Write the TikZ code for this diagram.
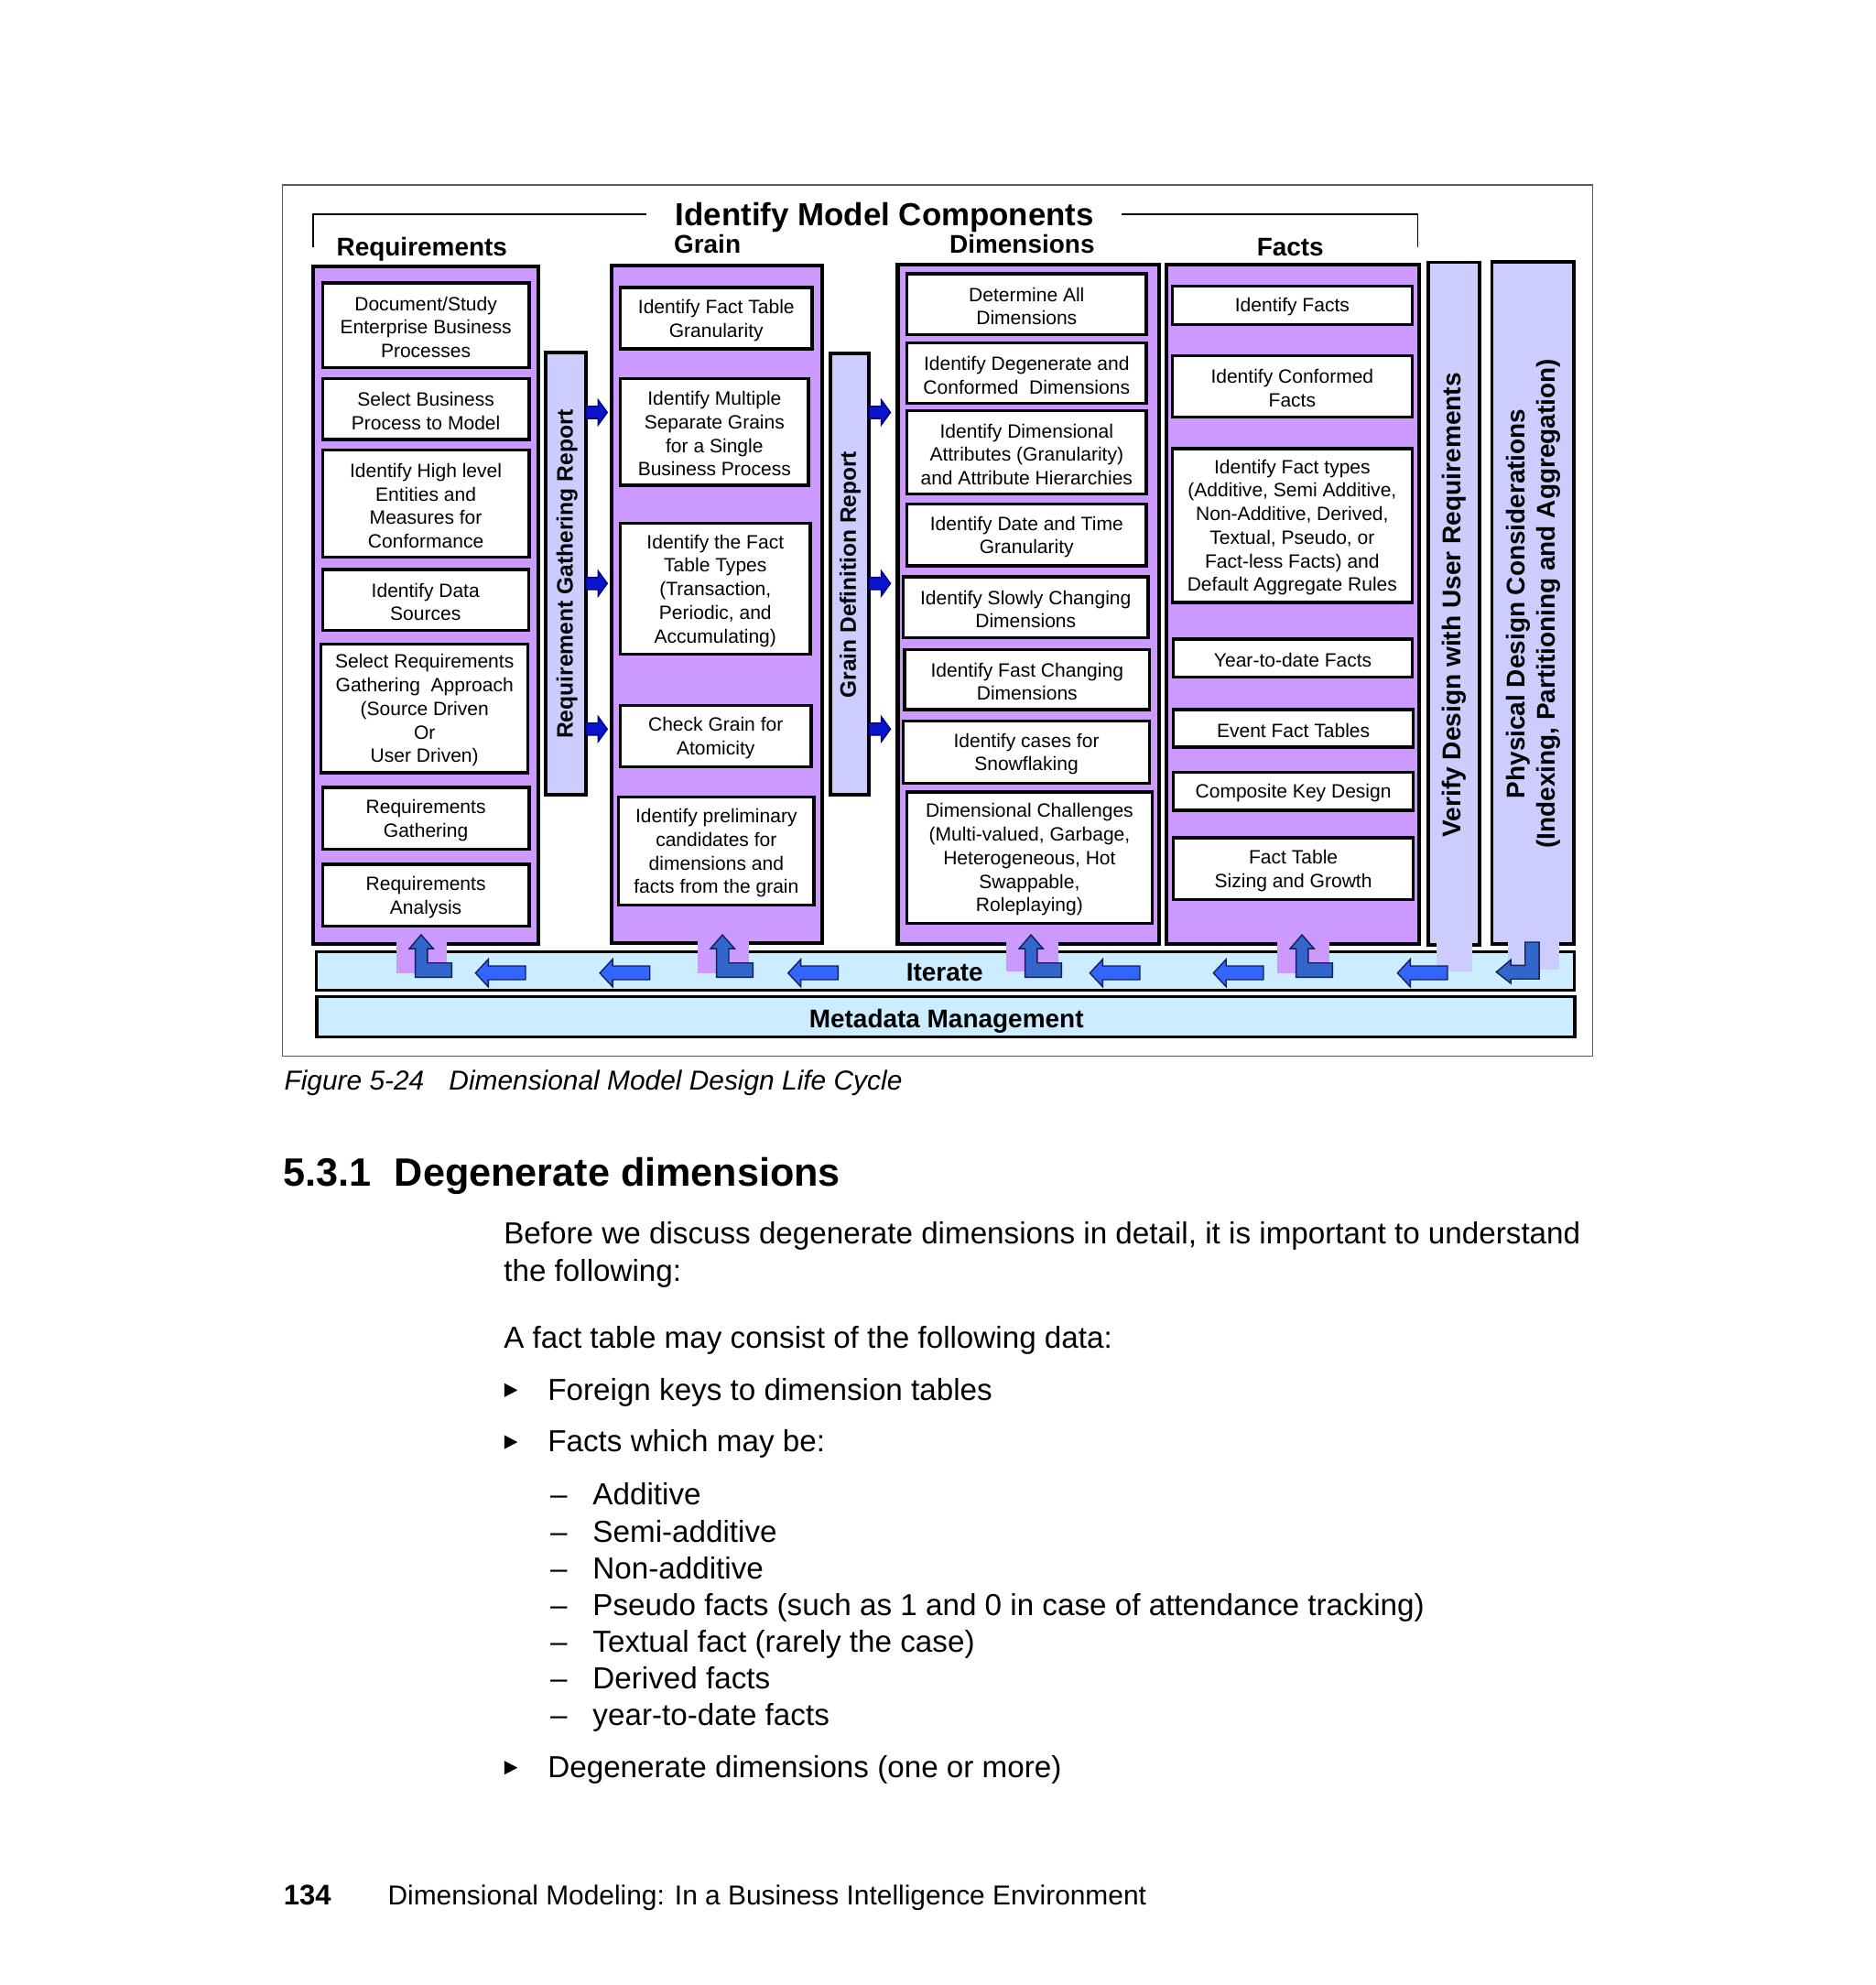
\documentclass[tikz,border=0pt]{standalone}
\usepackage{fontspec}
\setmainfont{Liberation Sans}
\definecolor{panelpurple}{HTML}{CC99FF}
\definecolor{barlav}{HTML}{CCCCFF}
\definecolor{iterblue}{HTML}{CCECFF}
\definecolor{rarrfill}{HTML}{0A14CC}
\definecolor{rarrline}{HTML}{00007A}
\definecolor{lfill}{HTML}{3366CC}
\definecolor{lbright}{HTML}{3366FF}
\definecolor{navyline}{HTML}{10205A}
\tikzset{
  boxst/.style={draw, fill=white, line width=1.2pt, inner sep=0pt},
  boxtext/.style={inner sep=0pt, align=center, font=\fontsize{7.6}{9.3}\selectfont},
  panelst/.style={draw, fill=panelpurple, line width=1.5pt, inner sep=0pt},
  barst/.style={draw, fill=barlav, line width=1.4pt, inner sep=0pt},
  iterst/.style={draw, fill=iterblue, line width=1.3pt, inner sep=0pt},
  headst/.style={anchor=base, font=\bfseries\fontsize{10.1}{12}\selectfont},
  rarrst/.style={fill=rarrfill, draw=rarrline, line width=0.5pt},
  larrst/.style={fill=lbright, draw=navyline, line width=0.5pt},
  lshapest/.style={fill=lfill, draw=navyline, line width=0.5pt},
  bodyst/.style={anchor=base west, inner sep=0pt, font=\fontsize{12}{14.5}\selectfont},
}
\newcommand\mkbox[6]{\node[boxst, minimum width={(#4-#2)*0.5pt}, minimum height={(#5-#3)*0.5pt}] (#1) at ({(#2+#4)/2},{(#3+#5)/2}) {};
  \node[boxtext] (#1t) at ([yshift=-0.8pt]#1.center) {#6};}
\newcommand\mkrect[6]{\node[#6, minimum width={(#4-#2)*0.5pt}, minimum height={(#5-#3)*0.5pt}] (#1) at ({(#2+#4)/2},{(#3+#5)/2}) {};}
\newcommand\rarr[2]{\filldraw[rarrst] (#1,#2-4.8) -- ++(9.6,0) -- ++(0,-5.1) -- ++(7.2,9.9) -- ++(-7.2,9.9) -- ++(0,-5.1) -- ++(-9.6,0) -- cycle;}
\newcommand\larr[1]{\filldraw[larrst] (#1,768) -- (#1+10.1,757.1) -- (#1+10.1,762.4) -- (#1+39.5,762.4) -- (#1+39.5,773.2) -- (#1+10.1,773.2) -- (#1+10.1,778.8) -- cycle;}
\newcommand\lshape[1]{\filldraw[lshapest] (#1,737.8) -- (#1+9.6,748.7) -- (#1+5,748.7) -- (#1+5,760) -- (#1+24.1,760) -- (#1+24.1,771.3) -- (#1-4.6,771.3) -- (#1-4.6,748.7) -- (#1-9.3,748.7) -- cycle;}
\newcommand\bulletmark[1]{\fill (398,#1-13.3) -- (408.5,#1-7.8) -- (398,#1-2.3) -- cycle;}
\begin{document}
\begin{tikzpicture}[x=0.5pt, y=-0.5pt]
\useasboundingbox (0,0) rectangle (1480,1566.7);
\fill[white] (0,0) rectangle (1480,1566.7);
% outer frame
\draw[black!65, line width=0.6pt] (223,146) rectangle (1257,833.5);
% bracket
\draw[line width=0.7pt] (247.4,195.4) -- (247.4,168.8) -- (510.5,168.8);
\draw[line width=0.7pt] (885.5,168.8) -- (1119,168.8) -- (1119,195.4);
\node[anchor=base, font=\bfseries\fontsize{12.6}{14}\selectfont] (title) at (698.3,178) {Identify Model Components};
\node[headst] (hreq) at (333,202.3) {Requirements};
\node[headst] (hgrain) at (558.3,199.5) {Grain};
\node[headst] (hdim) at (806.7,199.5) {Dimensions};
\node[headst] (hfact) at (1018.4,202) {Facts};
% panels and bars
\mkrect{reqP}{247}{210}{425}{745}{panelst}
\mkrect{grainP}{482.5}{209.6}{648.8}{744.5}{panelst}
\mkrect{dimP}{708.5}{209}{915}{745}{panelst}
\mkrect{factP}{920.7}{209}{1120}{745}{panelst}
\mkrect{verifyB}{1127}{207}{1167.5}{746}{barst}
\mkrect{physB}{1177.5}{206.5}{1242}{745}{barst}
\mkrect{reqRep}{431}{278}{462.5}{627.5}{barst}
\mkrect{grainRep}{655.5}{278.7}{685.6}{627.5}{barst}
\mkrect{iterB}{249.7}{751.3}{1242.5}{781.5}{iterst}
\mkrect{metaB}{250}{786.6}{1243}{818.3}{iterst}
% tabs over borders
\fill[panelpurple] (312.7,737) rectangle (352.9,768);
\fill[panelpurple] (550.5,737) rectangle (591,768);
\fill[panelpurple] (794,737) rectangle (835.6,766.5);
\fill[panelpurple] (1008.4,737) rectangle (1049.2,768);
\fill[barlav] (1133.5,738) rectangle (1162,766.5);
\fill[barlav] (1190.4,738) rectangle (1230.9,765.5);
% requirement boxes
\mkbox{r1}{254.5}{223.2}{417.7}{290}{Document/Study\\Enterprise Business\\Processes}
\mkbox{r2}{254.5}{298.6}{417.7}{346.9}{Select Business\\Process to Model}
\mkbox{r3}{254.5}{355.4}{417.7}{439.8}{Identify High level\\Entities and\\Measures for\\Conformance}
\mkbox{r4}{254.5}{449.6}{417.2}{497.3}{Identify Data\\Sources}
\mkbox{r5}{253.4}{508.3}{416.8}{610}{Select Requirements\\Gathering~~Approach\\(Source Driven\\Or\\User Driven)}
\mkbox{r6}{254.5}{621.5}{417.7}{670.2}{Requirements\\Gathering}
\mkbox{r7}{254.5}{682.2}{417.7}{731.1}{Requirements\\Analysis}
% grain boxes
\mkbox{g1}{489.6}{226.9}{641}{275.4}{Identify Fact Table\\Granularity}
\mkbox{g2}{489.6}{298.6}{638.2}{383}{Identify Multiple\\Separate Grains\\for a Single\\Business Process}
\mkbox{g3}{489.6}{413}{639.6}{516.2}{Identify the Fact\\Table Types\\(Transaction,\\Periodic, and\\Accumulating)}
\mkbox{g4}{489.6}{557}{640.2}{605}{Check Grain for\\Atomicity}
\mkbox{g5}{488.2}{629.2}{642.5}{714.3}{Identify preliminary\\candidates for\\dimensions and\\facts from the grain}
% dimension boxes
\mkbox{d1}{715.8}{216}{904.8}{264.3}{Determine All\\Dimensions}
\mkbox{d2}{715.8}{270.7}{904.8}{318.5}{Identify Degenerate and\\Conformed~~Dimensions}
\mkbox{d3}{715.8}{324}{904.8}{390}{Identify Dimensional\\Attributes (Granularity)\\and Attribute Hierarchies}
\mkbox{d4}{715.8}{398}{904.8}{446.5}{Identify Date and Time\\Granularity}
\mkbox{d5}{712.8}{455.3}{906.3}{503.3}{Identify Slowly Changing\\Dimensions}
\mkbox{d6}{713.9}{512.6}{907.4}{560.1}{Identify Fast Changing\\Dimensions}
\mkbox{d7}{712.8}{569}{907.4}{618}{Identify cases for\\Snowflaking}
\mkbox{d8}{715.8}{625.1}{909.3}{728.7}{Dimensional Challenges\\(Multi-valued, Garbage,\\Heterogeneous, Hot\\Swappable,\\Roleplaying)}
% fact boxes
\mkbox{f1}{925.2}{225.6}{1114.6}{256}{Identify Facts}
\mkbox{f2}{925.2}{280.6}{1114.6}{329}{Identify Conformed\\Facts}
\mkbox{f3}{925.2}{354.1}{1114.6}{475.4}{Identify Fact types\\(Additive, Semi Additive,\\Non-Additive, Derived,\\Textual, Pseudo, or\\Fact-less Facts) and\\Default Aggregate Rules}
\mkbox{f4}{926.3}{504.3}{1114.6}{534.5}{Year-to-date Facts}
\mkbox{f5}{926.3}{560.1}{1115.3}{589.7}{Event Fact Tables}
\mkbox{f6}{926.3}{609.5}{1115.3}{639.6}{Composite Key Design}
\mkbox{f7}{926.3}{661.3}{1115.3}{710.2}{Fact Table\\Sizing and Growth}
% vertical labels
\node[rotate=90, font=\bfseries\fontsize{8.9}{10}\selectfont] (lreq) at (447.5,453) {Requirement Gathering Report};
\node[rotate=90, font=\bfseries\fontsize{8.85}{10}\selectfont] (lgrain) at (671,453.5) {Grain Definition Report};
\node[rotate=90, font=\bfseries\fontsize{10.15}{12}\selectfont] (lver) at (1147.7,477.5) {Verify Design with User Requirements};
\node[rotate=90, align=center, font=\bfseries\fontsize{10.1}{12}\selectfont] (lphys) at (1210.5,476.5) {Physical Design Considerations\\(Indexing, Partitioning and Aggregation)};
% right arrows
\rarr{462.5}{325.5}\rarr{462.5}{460.5}\rarr{462.5}{575.5}
\rarr{686}{325.5}\rarr{686}{460.5}\rarr{686}{575.5}
% iterate arrows
\lshape{332.4}\lshape{570.2}\lshape{813.7}\lshape{1027.6}
\larr{375.3}\larr{473.4}\larr{622}\larr{860.2}\larr{957.7}\larr{1103}
\filldraw[lshapest] (1203.7,743.6) -- (1214.8,743.6) -- (1214.8,772.7) -- (1192.4,772.7) -- (1192.4,776.1) -- (1181,767.2) -- (1192.4,757.6) -- (1192.4,761.9) -- (1203.7,761.9) -- cycle;
\node[headst] (iter) at (745.6,774.5) {Iterate};
\node[headst] (meta) at (747,811) {Metadata Management};
% caption and page text
\node[anchor=base west, inner sep=0pt, font=\itshape\fontsize{10.8}{13}\selectfont] (cap1) at (224,860.3) {Figure 5-24};
\node[anchor=base west, inner sep=0pt, font=\itshape\fontsize{10.8}{13}\selectfont] (cap2) at (354,860.3) {Dimensional Model Design Life Cycle};
\node[anchor=base west, inner sep=0pt, font=\bfseries\fontsize{15.6}{18}\selectfont] (hnum) at (223,936.3) {5.3.1};
\node[anchor=base west, inner sep=0pt, font=\bfseries\fontsize{15.6}{18}\selectfont] (htxt) at (311,936.3) {Degenerate dimensions};
\node[bodyst] (p1) at (397.3,982) {Before we discuss degenerate dimensions in detail, it is important to understand};
\node[bodyst] (p2) at (397.3,1011) {the following:};
\node[bodyst] (p3) at (397.3,1064) {A fact table may consist of the following data:};
\bulletmark{1105}
\node[bodyst] (b1) at (432,1105) {Foreign keys to dimension tables};
\bulletmark{1146}
\node[bodyst] (b2) at (432,1146) {Facts which may be:};
\foreach \yy/\tt [count=\i] in {1188/Additive, 1217/Semi-additive, 1246/Non-additive, 1275/Pseudo facts (such as 1 and 0 in case of attendance tracking), 1304/Textual fact (rarely the case), 1333/Derived facts, 1362/year-to-date facts}{
  \node[bodyst] (dash\i) at (434,\yy) {–};
  \node[bodyst] (sub\i) at (467.5,\yy) {\tt};
}
\bulletmark{1403}
\node[bodyst] (b3) at (432,1403) {Degenerate dimensions (one or more)};
\node[anchor=base west, inner sep=0pt, font=\bfseries\fontsize{11.2}{13}\selectfont] (pg) at (223.5,1503.8) {134};
\node[anchor=base west, inner sep=0pt, font=\fontsize{10.8}{13}\selectfont] (foot) at (305.7,1503.8) {Dimensional Modeling: In a Business Intelligence Environment};
\end{tikzpicture}
\end{document}
